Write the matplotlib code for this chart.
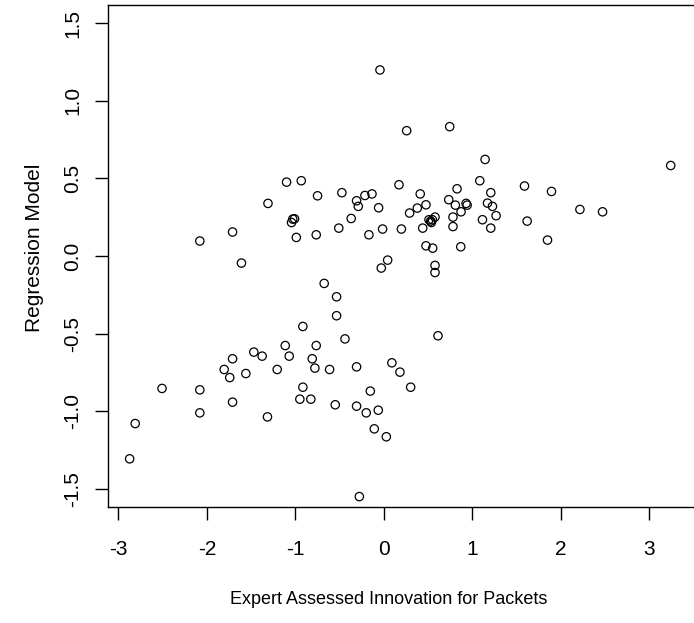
import matplotlib
matplotlib.use("Agg")
import matplotlib.pyplot as plt

# expert assessed innovation (x) vs regression model score (y)
expert = [
    -0.045, 0.257, 0.743, 1.143, 3.24, -1.10, -0.934, -0.75, -0.475, -0.309,
    -0.29, -0.215, -0.135, -0.06, -1.31, -1.03, -1.044, -1.01, -0.37, -0.51,
    -0.015, -0.17, -0.765, -0.99, -1.71, -2.08, -1.61, -0.675, 0.042, -0.03,
    0.17, 1.083, 1.588, 1.893, 0.826, 1.207, 0.41, 0.732, 0.475, 0.377,
    0.807, 0.928, 0.94, 1.17, 1.226, 0.29, 0.871, 1.267, 2.214, 2.47,
    0.577, 0.509, 0.528, 0.547, 0.536, 0.78, 1.113, 1.618, 0.197, 0.438,
    0.78, 1.207, 1.848, 0.475, 0.551, 0.868, 0.577, 0.577,
    -0.535, -0.535, -0.916, -0.44, -1.115, -0.765, -1.47, -1.376, -1.07, -1.71,
    -0.81, -1.805, -1.206, -0.78, -0.614, -0.309, -1.742, -1.56, 0.09, -2.507,
    -2.08, -0.916, -0.154, -1.71, -0.95, -0.826, -0.55, -0.309, -0.2, -0.064,
    -2.08, -1.316, -0.109, 0.027, -2.81, -2.873, -0.278, 0.611, 0.181, 0.302,
]
model = [
    1.198, 0.807, 0.833, 0.622, 0.583, 0.476, 0.485, 0.388, 0.408, 0.356,
    0.32, 0.39, 0.40, 0.311, 0.339, 0.238, 0.216, 0.24, 0.242, 0.18,
    0.174, 0.137, 0.137, 0.12, 0.155, 0.097, -0.045, -0.176, -0.026, -0.077,
    0.459, 0.485, 0.451, 0.416, 0.433, 0.408, 0.40, 0.363, 0.33, 0.309,
    0.328, 0.339, 0.328, 0.341, 0.32, 0.277, 0.285, 0.26, 0.30, 0.285,
    0.251, 0.234, 0.225, 0.234, 0.216, 0.251, 0.234, 0.225, 0.174, 0.18,
    0.19, 0.18, 0.103, 0.066, 0.051, 0.06, -0.06, -0.106,
    -0.262, -0.384, -0.453, -0.533, -0.576, -0.576, -0.618, -0.644, -0.644, -0.661,
    -0.661, -0.73, -0.73, -0.721, -0.73, -0.713, -0.782, -0.756, -0.687, -0.852,
    -0.861, -0.844, -0.869, -0.94, -0.921, -0.921, -0.957, -0.966, -1.009, -0.992,
    -1.009, -1.035, -1.112, -1.163, -1.078, -1.305, -1.548, -0.513, -0.747, -0.844,
]
xticks = [-3, -2, -1, 0, 1, 2, 3]
yticks = [-1.5, -1.0, -0.5, 0.0, 0.5, 1.0, 1.5]

plt.rcParams["font.family"] = ["Liberation Sans", "DejaVu Sans"]

W, H = 694, 623
fig = plt.figure(figsize=(W / 100, H / 100), dpi=100)
ax = fig.add_axes([108.3 / W, (H - 507.3) / H, (694 - 108.3) / W, (507.3 - 4.7) / H])

ax.scatter(expert, model, s=36, facecolors="none", edgecolors="black", linewidths=0.9)

ax.set_xlim(-3.114, 3.503)
ax.set_ylim(-1.617, 1.618)
ax.set_xticks(xticks)
ax.set_xticklabels([str(t) for t in xticks])
ax.set_yticks(yticks)
ax.set_yticklabels(["%.1f" % t for t in yticks], rotation=90, va="center")
ax.spines["right"].set_visible(False)
for s in ["left", "bottom", "top"]:
    ax.spines[s].set_linewidth(1.0)

ax.tick_params(axis="both", direction="out", length=9.5, width=1.0, labelsize=15)
ax.tick_params(axis="x", pad=14)
ax.tick_params(axis="y", pad=9)

ax.set_xlabel("Expert Assessed Innovation for Packets", fontsize=13)
ax.set_ylabel("Regression Model", fontsize=15)
ax.xaxis.set_label_coords((389 - 108.3) / (694 - 108.3), -(600 - 507.3) / (507.3 - 4.7))
ax.xaxis.label.set_va("center")
ax.yaxis.set_label_coords(-(108.3 - 35) / (694 - 108.3), (507.3 - 248) / (507.3 - 4.7))
ax.yaxis.label.set_va("center")

fig.savefig("out.png", dpi=100)
